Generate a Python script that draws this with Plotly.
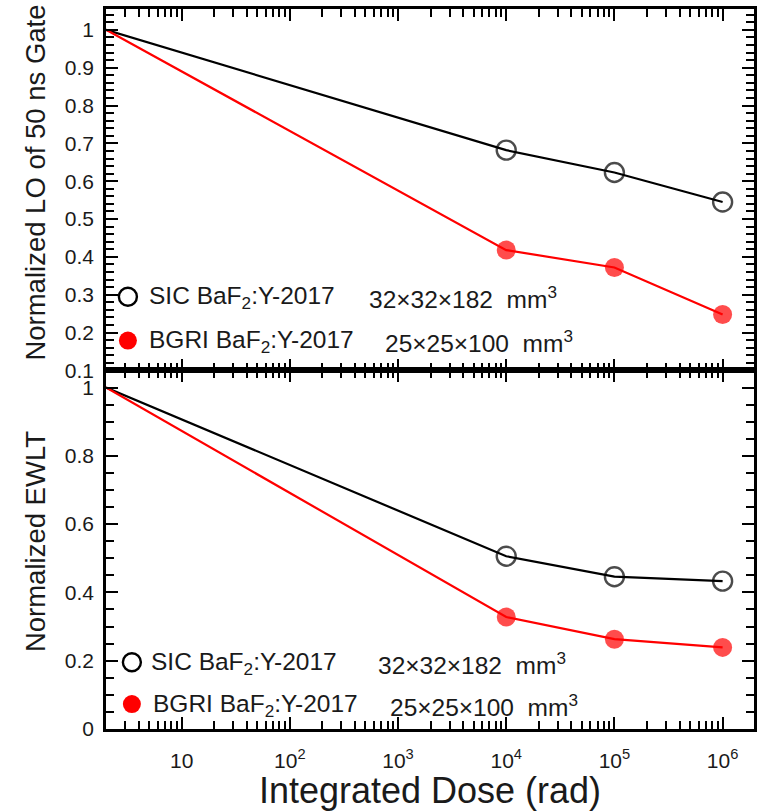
import math
import plotly.graph_objects as go
from plotly.subplots import make_subplots

# Integrated dose points (rad); the first entry is the undamaged reference
dose = [2, 1e4, 1e5, 1e6]

# Normalized light output in a 50 ns gate
lo_sic = [1.0, 0.682, 0.623, 0.545]
lo_bgri = [1.0, 0.418, 0.372, 0.248]

# Normalized effective weighted light transmittance
ewlt_sic = [1.0, 0.506, 0.446, 0.433]
ewlt_bgri = [1.0, 0.328, 0.263, 0.239]

x_tick_vals = [10, 100, 1e3, 1e4, 1e5, 1e6]
x_tick_text = ["10", "10<sup>2</sup>", "10<sup>3</sup>", "10<sup>4</sup>",
               "10<sup>5</sup>", "10<sup>6</sup>"]

label_sic = "SIC BaF<sub>2</sub>:Y-2017"
label_bgri = "BGRI BaF<sub>2</sub>:Y-2017"
size_sic = "32×32×182\u00a0\u00a0mm<sup>3</sup>"
size_bgri = "25×25×100\u00a0\u00a0mm<sup>3</sup>"

BLACK = "#000000"
RED = "#ff0000"
TEXT = "#1a1a1a"
FONT = "Liberation Sans, Arial, sans-serif"

X_RANGE_LOG = [0.301, 6.29]
Y1_RANGE = [0.1, 1.055]
Y2_RANGE = [0.0, 1.05]

fig = make_subplots(rows=2, cols=1, shared_xaxes=True, vertical_spacing=0)


def add_series(y, color, open_marker, row):
    # first point is the pre-irradiation reference: line only, no marker
    sizes = [0] + [19] * (len(y) - 1)
    marker = dict(size=sizes,
                  color="rgba(0,0,0,0)" if open_marker else color,
                  symbol="circle",
                  line=dict(color=color, width=2.4 if open_marker else 0))
    fig.add_trace(go.Scatter(x=dose, y=y, mode="lines+markers",
                             line=dict(color=color, width=2.2),
                             marker=marker, showlegend=False,
                             cliponaxis=False),
                  row=row, col=1)


add_series(lo_sic, BLACK, True, 1)
add_series(lo_bgri, RED, False, 1)
add_series(ewlt_sic, BLACK, True, 2)
add_series(ewlt_bgri, RED, False, 2)

minor_x = [m * 10 ** e for e in range(0, 7) for m in range(2, 10)
           if X_RANGE_LOG[0] <= e + math.log10(m) <= X_RANGE_LOG[1]]

MINOR = dict(ticks="inside", ticklen=8, tickwidth=2, tickcolor=BLACK)

fig.update_xaxes(type="log", range=X_RANGE_LOG,
                 showline=True, linewidth=2.5, linecolor=BLACK, mirror="ticks",
                 ticks="inside", ticklen=12, tickwidth=2.2, tickcolor=BLACK,
                 tickmode="array", tickvals=x_tick_vals, ticktext=x_tick_text,
                 minor=dict(**MINOR, tickmode="array", tickvals=minor_x),
                 showgrid=False, zeroline=False, ticklabelstandoff=11,
                 tickfont=dict(family=FONT, size=21, color=TEXT))
fig.update_xaxes(showticklabels=False, row=1, col=1)
fig.update_xaxes(title=dict(text="Integrated Dose (rad)",
                            font=dict(family=FONT, size=36, color=TEXT),
                            standoff=8),
                 row=2, col=1)

fig.update_yaxes(showline=True, linewidth=2.5, linecolor=BLACK, mirror="ticks",
                 ticks="inside", ticklen=12, tickwidth=2.2, tickcolor=BLACK,
                 showgrid=False, zeroline=False, ticklabelstandoff=5,
                 tickmode="linear", tick0=0,
                 tickfont=dict(family=FONT, size=21, color=TEXT))
fig.update_yaxes(range=Y1_RANGE, dtick=0.1, domain=[0.498, 1.0],
                 minor=dict(**MINOR, dtick=0.02), row=1, col=1)
fig.update_yaxes(range=Y2_RANGE, dtick=0.2, domain=[0.0, 0.498],
                 minor=dict(**MINOR, dtick=0.05), row=2, col=1)

# In-panel keys: marker glyph followed by sample name and crystal size
W, H = 651, 723


def px(xp):
    return (xp - 106) / W


def py(yp):
    return 1 - (yp - 7) / H


# Vertical axis titles
for text, yc in [("Normalized LO of 50 ns Gate", 181),
                 ("Normalized EWLT", 542)]:
    fig.add_annotation(xref="paper", yref="paper", x=px(35), y=py(yc),
                       xanchor="center", yanchor="middle", showarrow=False,
                       textangle=-90, text=text,
                       font=dict(family=FONT, size=27.5, color=TEXT))

keys = [
    (128, 296, 147, 368, label_sic, size_sic, BLACK, True),
    (128, 340, 147, 384, label_bgri, size_bgri, RED, False),
    (132, 663, 149, 377, label_sic, size_sic, BLACK, True),
    (132, 705, 151, 389, label_bgri, size_bgri, RED, False),
]
for mx, my, tx, sx, lab, sz, col, is_open in keys:
    fig.add_shape(type="circle", xref="paper", yref="paper",
                  xsizemode="pixel", ysizemode="pixel",
                  xanchor=px(mx), yanchor=py(my),
                  x0=-9, x1=9, y0=-9, y1=9,
                  line=dict(color=col, width=2.4 if is_open else 0),
                  fillcolor="rgba(0,0,0,0)" if is_open else col)
    fig.add_annotation(xref="paper", yref="paper", x=px(tx), y=py(my + 1),
                       xanchor="left", yanchor="middle", showarrow=False,
                       text=lab, font=dict(family=FONT, size=24.5, color=TEXT))
    fig.add_annotation(xref="paper", yref="paper", x=px(sx), y=py(my + 1),
                       xanchor="left", yanchor="middle", showarrow=False,
                       text=sz, font=dict(family=FONT, size=24.5, color=TEXT))

fig.update_layout(width=763, height=811,
                  margin=dict(l=106, r=6, t=7, b=81),
                  paper_bgcolor="white", plot_bgcolor="white",
                  showlegend=False)

fig.write_html("out.html")
